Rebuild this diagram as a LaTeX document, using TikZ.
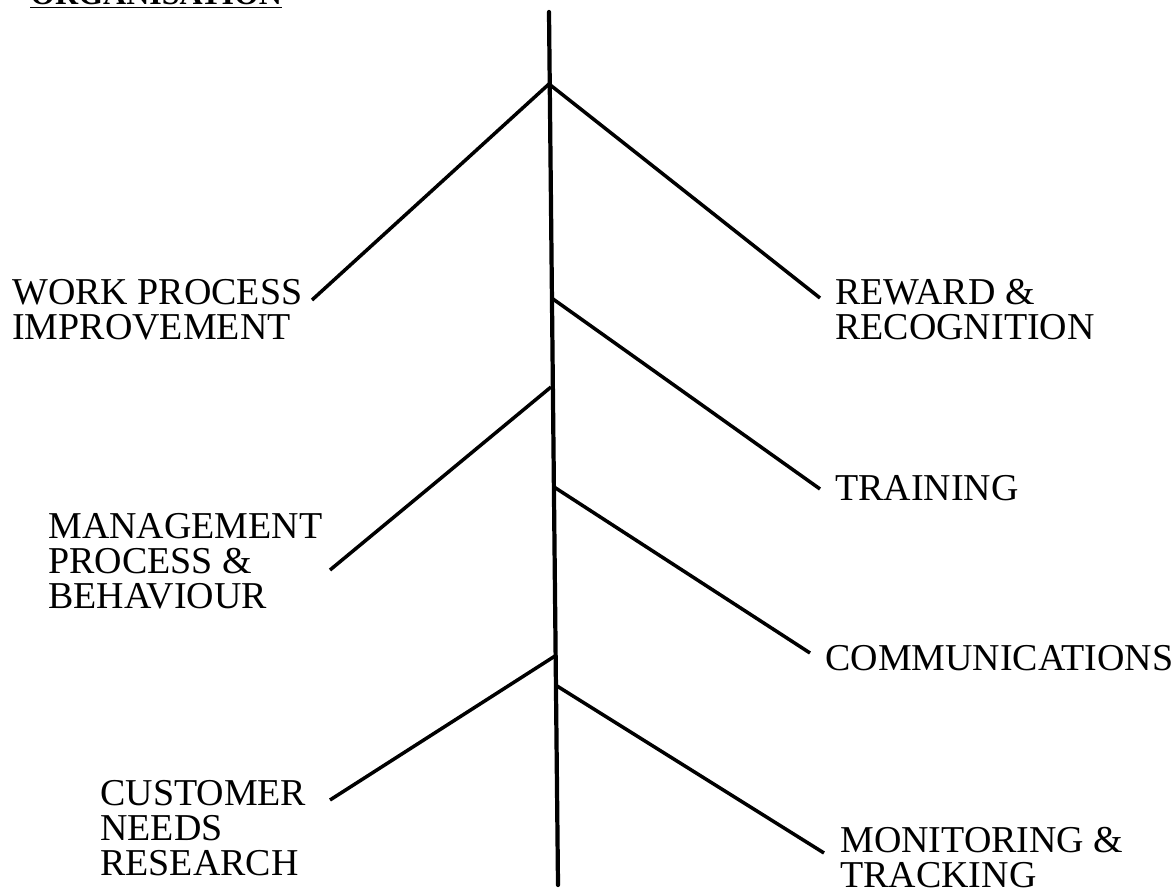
\documentclass[tikz,border=0pt]{standalone}
\usepackage{fontspec}
\setmainfont{Liberation Serif}
\usepackage{tikz}
\usetikzlibrary{positioning}
\tikzset{
    cause/.style={anchor=north west, inner sep=0pt, align=left, font=\fontsize{21.6}{19.9}\selectfont},
    heading/.style={anchor=base west, inner sep=0pt, font=\fontsize{18.2}{20}\selectfont\bfseries},
    trunk/.style={line width=2.4pt, line cap=round},
    branch/.style={line width=2pt}
}

\begin{document}
\begin{tikzpicture}[x=0.02cm, y=-0.02cm]
    \useasboundingbox (0,0) rectangle (1176,892);

    % spine and joints
    \coordinate (top) at (549,12);
    \coordinate (bottom) at (558,885);
    \coordinate (apex) at (549,84);
    \coordinate (jtrain) at (553,299);
    \coordinate (jmgmt) at (551,387);
    \coordinate (jcomm) at (554,487);
    \coordinate (jcust) at (555,656);
    \coordinate (jmon) at (557,686);

    % free ends of the bones
    \coordinate (ework) at (312,300);
    \coordinate (ereward) at (820,298);
    \coordinate (etrain) at (820,489);
    \coordinate (emgmt) at (330,570);
    \coordinate (ecomm) at (810,653);
    \coordinate (ecust) at (330,800);
    \coordinate (emon) at (824,853);

    \node [heading] (org) at (30,5) {\underline{ORGANISATION}};

    \node [cause] (work) at (12,279) {WORK PROCESS\\IMPROVEMENT};
    \node [cause] (reward) at (835,279) {REWARD \&\\RECOGNITION};
    \node [cause] (train) at (835,475) {TRAINING};
    \node [cause] (mgmt) at (48,513) {MANAGEMENT\\PROCESS \&\\BEHAVIOUR};
    \node [cause] (comm) at (825,645) {COMMUNICATIONS};
    \node [cause] (cust) at (100,780) {CUSTOMER\\NEEDS\\RESEARCH};
    \node [cause] (mon) at (840,827) {MONITORING \&\\TRACKING};

    \draw [trunk] (top) -- (bottom);
    \draw [branch] (ework) -- (apex) -- (ereward);
    \draw [branch] (jtrain) -- (etrain);
    \draw [branch] (jmgmt) -- (emgmt);
    \draw [branch] (jcomm) -- (ecomm);
    \draw [branch] (jcust) -- (ecust);
    \draw [branch] (jmon) -- (emon);
\end{tikzpicture}
\end{document}
